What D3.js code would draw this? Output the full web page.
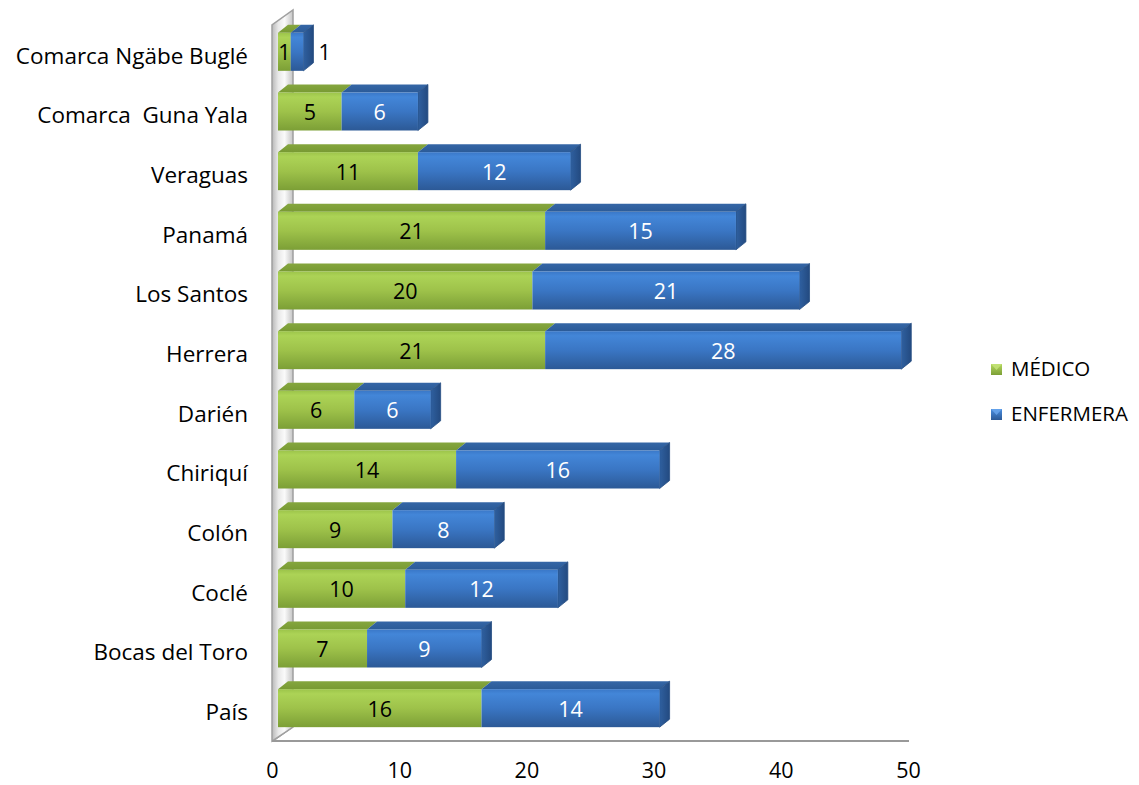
<!DOCTYPE html>
<html>
<head>
<meta charset="utf-8">
<script src="https://cdn.jsdelivr.net/npm/d3@7"></script>
<style>
  html, body { margin: 0; padding: 0; background: #ffffff; }
  svg { display: block; font-family: "Open Sans", Lato, sans-serif; }
</style>
</head>
<body>
<svg id="chart" width="1139" height="785"></svg>
<script>
// ---- Data ----
const categories = ["Comarca Ngäbe Buglé", "Comarca  Guna Yala", "Veraguas", "Panamá", "Los Santos",
  "Herrera", "Darién", "Chiriquí", "Colón", "Coclé", "Bocas del Toro", "País"];
const medico =     [1, 5, 11, 21, 20, 21, 6, 14, 9, 10, 7, 16];
const enfermera =  [1, 6, 12, 15, 21, 28, 6, 16, 8, 12, 9, 14];
const seriesNames = ["MÉDICO", "ENFERMERA"];
const xTicks = [0, 10, 20, 30, 40, 50];

// ---- Layout ----
const FONT = "'Open Sans', Lato, sans-serif";
const svg = d3.select("#chart");
const x = d3.scaleLinear().domain([0, 50]).range([272, 908]);
const y = d3.scaleBand().domain(categories).range([22, 738]);
const faceH = 38;       // bar front-face height
const dx = 10, dy = -8; // 3D depth offset
const shift = 6;        // bars sit slightly behind the axis front edge

const defs = svg.append("defs");
function vgrad(id, stops) {
  const g = defs.append("linearGradient").attr("id", id)
    .attr("x1", 0).attr("y1", 0).attr("x2", 0).attr("y2", 1);
  stops.forEach(s => g.append("stop").attr("offset", s[0]).attr("stop-color", s[1]));
}
function hgrad(id, stops) {
  const g = defs.append("linearGradient").attr("id", id)
    .attr("x1", 0).attr("y1", 0).attr("x2", 1).attr("y2", 0);
  stops.forEach(s => g.append("stop").attr("offset", s[0]).attr("stop-color", s[1]));
}
vgrad("gFront", [[0, "#9cc44a"], [0.12, "#acd356"], [0.5, "#9ec24a"], [1, "#7c9f36"]]);
vgrad("bFront", [[0, "#3a78c8"], [0.12, "#4386d8"], [0.5, "#3a76c4"], [1, "#2c5996"]]);
vgrad("gTop", [[0, "#85a63e"], [1, "#789a33"]]);
vgrad("bTop", [[0, "#3566a6"], [1, "#2b5b98"]]);
hgrad("bSide", [[0, "#2f60a0"], [1, "#234a80"]]);
hgrad("wallG", [[0, "#b8b8b8"], [0.3, "#e8e8e8"], [0.6, "#fafafa"], [1, "#c4c4c4"]]);
vgrad("legG", [[0, "#b4d85e"], [1, "#7c9f36"]]);
vgrad("legB", [[0, "#4a8ee0"], [1, "#2c5996"]]);

// ---- Wall & floor ----
const wx0 = 272, wx1 = 293, wTop = 25, wBot = 741;
svg.append("polygon")
  .attr("points", [[wx0, wBot], [wx0, wTop], [wx1, wTop - 15], [wx1, wBot - 14]].map(p => p.join(",")).join(" "))
  .attr("fill", "url(#wallG)").attr("stroke", "#a0a0a0").attr("stroke-width", 1.5);
svg.append("line").attr("x1", 275).attr("y1", wBot - 1).attr("x2", wx1).attr("y2", wBot - 14)
  .attr("stroke", "#a0a0a0").attr("stroke-width", 1);
svg.append("line").attr("x1", wx0).attr("y1", wBot).attr("x2", x(50) + 1).attr("y2", wBot)
  .attr("stroke", "#999999").attr("stroke-width", 2);

// ---- Bars ----
const rows = categories.map((c, i) => ({ cat: c, m: medico[i], e: enfermera[i] }));
const g = svg.append("g");
rows.forEach(r => {
  const yc = y(r.cat) + y.bandwidth() / 2;
  const y0 = yc - faceH / 2, y1 = yc + faceH / 2;
  const segs = [
    { v0: 0, v1: r.m, front: "url(#gFront)", top: "url(#gTop)", label: r.m, color: "#000000" },
    { v0: r.m, v1: r.m + r.e, front: "url(#bFront)", top: "url(#bTop)", label: r.e, color: "#ffffff", side: true }
  ];
  segs.forEach(s => {
    const xa = x(s.v0) + shift, xb = x(s.v1) + shift;
    g.append("polygon")
      .attr("points", [[xa, y0], [xa + dx, y0 + dy], [xb + dx, y0 + dy], [xb, y0]].map(p => p.join(",")).join(" "))
      .attr("fill", s.top);
    if (s.side) {
      g.append("polygon")
        .attr("points", [[xb, y0], [xb + dx, y0 + dy], [xb + dx, y1 + dy], [xb, y1]].map(p => p.join(",")).join(" "))
        .attr("fill", "url(#bSide)").attr("stroke", "#244c82").attr("stroke-width", 0.8).attr("stroke-linejoin", "round");
    }
    g.append("rect").attr("x", xa).attr("y", y0).attr("width", xb - xa).attr("height", faceH)
      .attr("fill", s.front);
  });
  segs.forEach(s => {
    const xa = x(s.v0) + shift, xb = x(s.v1) + shift;
    const w = xb - xa;
    const t = g.append("text").attr("y", yc + 1).attr("dy", "0.35em")
      .attr("font-size", 21.5).text(s.label);
    if (s.side && w < 20) {
      t.attr("x", xb + dx + 5).attr("text-anchor", "start").attr("fill", "#000000");
    } else {
      t.attr("x", (xa + xb) / 2).attr("text-anchor", "middle").attr("fill", s.color);
    }
  });
});

// ---- Category labels ----
svg.append("g").selectAll("text").data(categories).join("text")
  .attr("x", 248).attr("y", d => y(d) + y.bandwidth() / 2 + 4).attr("dy", "0.35em")
  .attr("text-anchor", "end").attr("font-size", 22.5).attr("fill", "#000000")
  .attr("xml:space", "preserve").style("white-space", "pre")
  .text(d => d);

// ---- X axis ----
const xAxis = d3.axisBottom(x).tickValues(xTicks).tickSize(0).tickPadding(0);
const ax = svg.append("g").attr("transform", "translate(0,778)").call(xAxis);
ax.select(".domain").remove();
ax.selectAll("text").attr("font-size", 21.5).attr("fill", "#000000")
  .attr("font-family", FONT).attr("y", 0).attr("dy", "0");

// ---- Legend ----
const legend = svg.append("g");
const legY = [369, 414];
seriesNames.forEach((n, i) => {
  legend.append("rect").attr("x", 991).attr("y", legY[i] - 5).attr("width", 11).attr("height", 11)
    .attr("fill", i === 0 ? "url(#legG)" : "url(#legB)");
  legend.append("polygon")
    .attr("points", [[991, legY[i] - 5], [1002, legY[i] - 5], [996.5, legY[i] + 1]].map(p => p.join(",")).join(" "))
    .attr("fill", i === 0 ? "#c6e47a" : "#6aa6ee").attr("opacity", 0.8);
  legend.append("text").attr("x", 1011).attr("y", legY[i]).attr("dy", "0.35em")
    .attr("font-size", 20.5).attr("fill", "#000000").text(n);
});
</script>
</body>
</html>
